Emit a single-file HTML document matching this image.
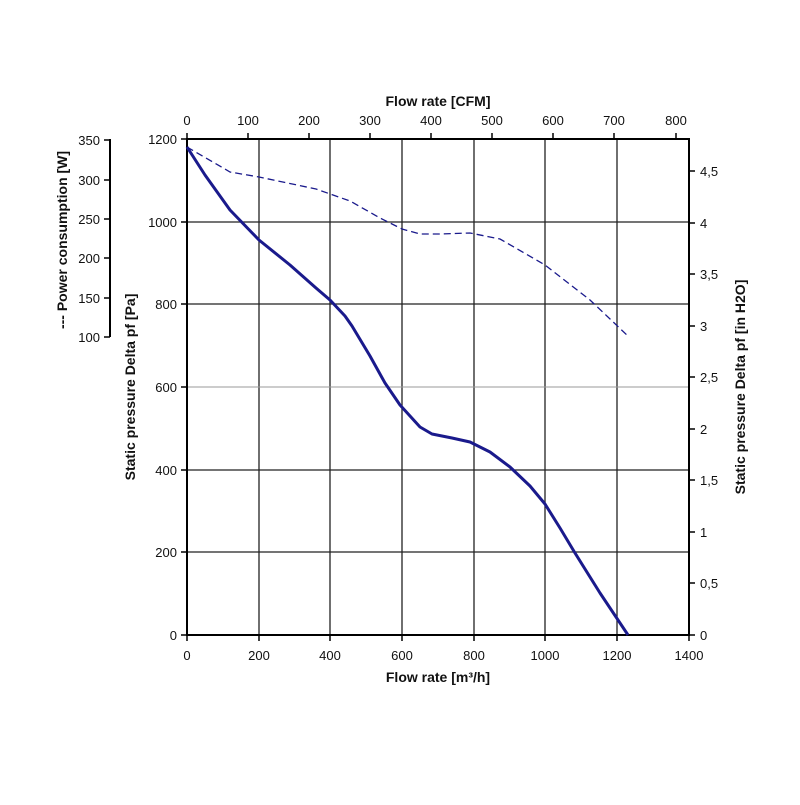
<!DOCTYPE html><html><head><style>body{margin:0;background:#fff}</style></head><body>
<svg width="800" height="800" xmlns="http://www.w3.org/2000/svg" font-family="Liberation Sans, sans-serif" font-size="13">
<g stroke="#222" stroke-width="1.3">
<line x1="259" y1="139" x2="259" y2="635"/><line x1="330" y1="139" x2="330" y2="635"/><line x1="402" y1="139" x2="402" y2="635"/><line x1="474" y1="139" x2="474" y2="635"/><line x1="545" y1="139" x2="545" y2="635"/><line x1="617" y1="139" x2="617" y2="635"/>
<line x1="187" y1="552" x2="689" y2="552"/><line x1="187" y1="470" x2="689" y2="470"/><line x1="187" y1="304" x2="689" y2="304"/><line x1="187" y1="222" x2="689" y2="222"/>
</g>
<line x1="187" y1="387" x2="689" y2="387" stroke="#999" stroke-width="1"/>
<g stroke="#000" stroke-width="2" fill="none">
<rect x="187" y="139" width="502" height="496"/>
<line x1="110" y1="139" x2="110" y2="337"/>
</g>
<g stroke="#000" stroke-width="1.5">
<path d="M187 635v6M259 635v6M330 635v6M402 635v6M474 635v6M545 635v6M617 635v6M689 635v6"/>
<path d="M181 139h6M181 222h6M181 304h6M181 387h6M181 470h6M181 552h6M181 635h6"/>
<path d="M689 635h6M689 583h6M689 532h6M689 480h6M689 429h6M689 377h6M689 326h6M689 274h6M689 223h6M689 171h6"/>
<path d="M187 139v-6M248 139v-6M309 139v-6M370 139v-6M431 139v-6M492 139v-6M553 139v-6M614 139v-6M676 139v-6"/>
<path d="M104 140h6M104 180h6M104 219h6M104 258h6M104 298h6M104 337h6"/>
</g>
<g text-anchor="middle" fill="#111">
<text x="187" y="660">0</text><text x="259" y="660">200</text><text x="330" y="660">400</text><text x="402" y="660">600</text><text x="474" y="660">800</text><text x="545" y="660">1000</text><text x="617" y="660">1200</text><text x="689" y="660">1400</text>
<text x="187" y="125">0</text><text x="248" y="125">100</text><text x="309" y="125">200</text><text x="370" y="125">300</text><text x="431" y="125">400</text><text x="492" y="125">500</text><text x="553" y="125">600</text><text x="614" y="125">700</text><text x="676" y="125">800</text>
</g>
<g text-anchor="end" fill="#111">
<text x="177" y="144">1200</text><text x="177" y="227">1000</text><text x="177" y="309">800</text><text x="177" y="392">600</text><text x="177" y="475">400</text><text x="177" y="557">200</text><text x="177" y="640">0</text>
<text x="100" y="145">350</text><text x="100" y="185">300</text><text x="100" y="224">250</text><text x="100" y="263">200</text><text x="100" y="303">150</text><text x="100" y="342">100</text>
</g>
<g fill="#111">
<text x="700" y="640">0</text><text x="700" y="588">0,5</text><text x="700" y="537">1</text><text x="700" y="485">1,5</text><text x="700" y="434">2</text><text x="700" y="382">2,5</text><text x="700" y="331">3</text><text x="700" y="279">3,5</text><text x="700" y="228">4</text><text x="700" y="176">4,5</text>
</g>
<g font-weight="bold" font-size="14" fill="#111" text-anchor="middle">
<text x="438" y="682">Flow rate [m³/h]</text>
<text x="438" y="106">Flow rate [CFM]</text>
<text transform="translate(135,387) rotate(-90)">Static pressure Delta pf [Pa]</text>
<text transform="translate(745,387) rotate(-90)">Static pressure Delta pf [in H2O]</text>
<text transform="translate(67,240) rotate(-90)">--- Power consumption [W]</text>
</g>
<polyline fill="none" stroke="#1a1a8c" stroke-width="3" stroke-linejoin="round" points="187,147 205,175 230,210 259,240 290,265 316,288 330,300 345,316 352,326 370,356 385,383 400,405 420,427 432,434 452,438 470,442 490,452 510,467 530,486 545,504 560,528 575,553 600,593 628,635"/>
<polyline fill="none" stroke="#1a1a8c" stroke-width="1.3" stroke-dasharray="7,4" points="187,147 230,172 259,177 316,189 350,201 380,218 402,229 420,234 440,234 470,233 500,239 545,265 590,300 629,337"/>
</svg>
</body></html>
